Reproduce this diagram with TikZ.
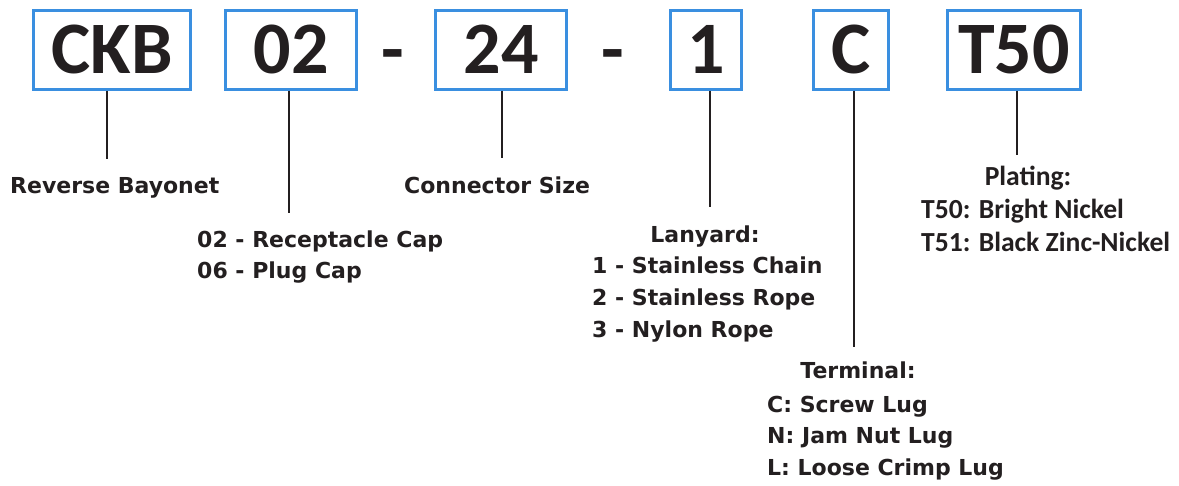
\documentclass[tikz,border=0pt]{standalone}
\usepackage{fontspec}
\setmainfont{DejaVu Sans}
\newfontfamily\calib{Carlito}
\definecolor{boxblue}{RGB}{58,143,224}
\definecolor{ink}{RGB}{35,31,32}
\begin{document}
\begin{tikzpicture}[x=1pt,y=-1pt,
  codebox/.style={draw=boxblue, line width=3pt, fill=white, inner sep=0pt,
    minimum height=79pt, text=ink, font=\calib\bfseries\fontsize{74}{74}\selectfont},
  dashtxt/.style={text=ink, inner sep=0pt, font=\calib\bfseries\fontsize{74}{74}\selectfont},
  lbl/.style={text=ink, inner sep=0pt, font=\bfseries\fontsize{22}{26}\selectfont},
  plat/.style={text=ink, inner sep=0pt, font=\calib\bfseries\fontsize{27.6}{30}\selectfont},
  conn/.style={draw=ink, line width=2.6pt}]
\fill[white] (0,0) rectangle (1179,485);
\useasboundingbox (0,0) rectangle (1179,485);

% code boxes
\node[codebox, minimum width=157pt] (ckb) at (112,49.5) {CKB};
\node[codebox, minimum width=131pt] (n02) at (291,49.5) {02};
\node[dashtxt, anchor=base] (d1) at (392.5,74) {-};
\node[codebox, minimum width=131pt] (n24) at (501,49.5) {24};
\node[dashtxt, anchor=base] (d2) at (613,74) {-};
\node[codebox, minimum width=71pt] (n1) at (706,49.5) {1};
\node[codebox, minimum width=75pt] (nc) at (851,49.5) {C};
\node[codebox, minimum width=133pt] (nt) at (1014,49.5) {T50};

% line ends
\coordinate (e1) at (107,159);
\coordinate (e2) at (289,213);
\coordinate (e3) at (502,158);
\coordinate (e4) at (710,207);
\coordinate (e5) at (854,347);
\coordinate (e6) at (1017,155);

\draw[conn] (ckb.south -| e1) -- (e1);
\draw[conn] (n02.south -| e2) -- (e2);
\draw[conn] (n24.south -| e3) -- (e3);
\draw[conn] (n1.south -| e4) -- (e4);
\draw[conn] (nc.south -| e5) -- (e5);
\draw[conn] (nt.south -| e6) -- (e6);

% labels
\node[lbl, anchor=base west] (rb) at (10,193) {Reverse Bayonet};
\node[lbl, anchor=base west] (cs) at (404,193) {Connector Size};
\node[lbl, anchor=base west] (rc) at (197,247) {02 - Receptacle Cap};
\node[lbl, anchor=base west] (pc) at (197,278) {06 - Plug Cap};

\node[lbl, anchor=base] (lan) at (705,242) {Lanyard:};
\node[lbl, anchor=base west] (l1) at (592,273) {1 - Stainless Chain};
\node[lbl, anchor=base west] (l2) at (592,305) {2 - Stainless Rope};
\node[lbl, anchor=base west] (l3) at (592,337) {3 - Nylon Rope};

\node[lbl, anchor=base] (ter) at (858,378) {Terminal:};
\node[lbl, anchor=base west] (t1) at (767,412) {C: Screw Lug};
\node[lbl, anchor=base west] (t2) at (767,443) {N: Jam Nut Lug};
\node[lbl, anchor=base west] (t3) at (767,475) {L: Loose Crimp Lug};

\node[plat, anchor=base] (pl) at (1028,185) {Plating:};
\node[plat, anchor=base west] (p1) at (921,218) {T50: Bright Nickel};
\node[plat, anchor=base west] (p2) at (921,251) {T51: Black Zinc-Nickel};
\end{tikzpicture}
\end{document}
